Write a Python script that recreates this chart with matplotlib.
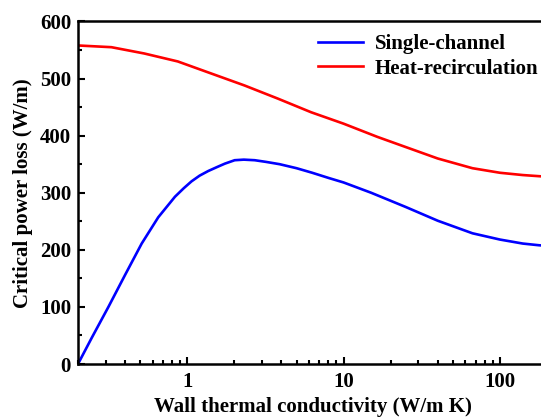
import numpy as np
import matplotlib
matplotlib.use("Agg")
import matplotlib.pyplot as plt
from matplotlib.ticker import LogLocator, MultipleLocator, NullFormatter, FixedLocator, FixedFormatter

# values
k_single = [0.2, 0.245, 0.313, 0.4, 0.511, 0.652, 0.834, 0.95, 1.065, 1.2,
            1.36, 1.55, 1.74, 2.01, 2.3, 2.7, 3.2, 3.9, 5.0, 6.3,
            8.0, 10.0, 15.0, 25.0, 40.0, 66.7, 100.0, 140.0, 178.0, 200.0]
p_single = [0, 46, 100, 156, 211, 257, 293, 308, 320, 330,
            338, 345, 351, 357, 358, 357, 354, 350, 343, 335,
            326, 318, 300, 275, 251, 229, 218, 211, 208, 207]

k_heat = [0.2, 0.327, 0.53, 0.87, 1.42, 2.32, 3.79, 6.2, 10.0, 16.4,
          25.0, 40.0, 66.7, 100.0, 140.0, 178.0, 200.0]
p_heat = [558, 555, 544, 530, 509, 488, 465, 441, 421, 398,
          380, 360, 343, 335, 331, 329, 328]

plt.rcParams['font.family'] = 'Liberation Serif'
plt.rcParams['font.weight'] = 'bold'
plt.rcParams['axes.labelweight'] = 'bold'

fig = plt.figure(figsize=(5.41, 4.19), dpi=100)
# axes runs past the right edge, as in the original
ax = fig.add_axes([78 / 541, 55 / 419, 469 / 541, 342.5 / 419])

ax.plot(k_single, p_single, color='#0000ff', linewidth=1.9, label='Single-channel')
ax.plot(k_heat, p_heat, color='#ff0000', linewidth=1.9, label='Heat-recirculation')

ax.set_xscale('log')
ax.set_xlim(0.2, 200)
ax.set_ylim(0, 600)

ax.xaxis.set_major_locator(FixedLocator([1, 10, 100]))
ax.xaxis.set_major_formatter(FixedFormatter(['1', '10', '100']))
ax.xaxis.set_minor_locator(LogLocator(base=10, subs=np.arange(2, 10)))
ax.xaxis.set_minor_formatter(NullFormatter())
ax.yaxis.set_major_locator(MultipleLocator(100))
ax.yaxis.set_minor_locator(MultipleLocator(50))

for s in ax.spines.values():
    s.set_linewidth(1.8)

ax.tick_params(which='major', direction='in', length=5, width=1.5, labelsize=15,
               top=False, right=False)
ax.tick_params(which='minor', direction='in', length=3, width=1.5, top=False, right=False)
ax.tick_params(axis='x', which='major', pad=6)
ax.tick_params(axis='y', which='major', pad=5)

ax.set_xlabel('Wall thermal conductivity (W/m K)', fontsize=15, labelpad=3)
ax.set_ylabel('Critical power loss (W/m)', fontsize=15, labelpad=5)

ax.legend(loc='upper left', bbox_to_anchor=(225 / 469, 1.005), frameon=False,
          fontsize=15, handlelength=2.2, handletextpad=0.55, labelspacing=0.2,
          borderaxespad=0.3)

fig.savefig('out.png', dpi=100)
